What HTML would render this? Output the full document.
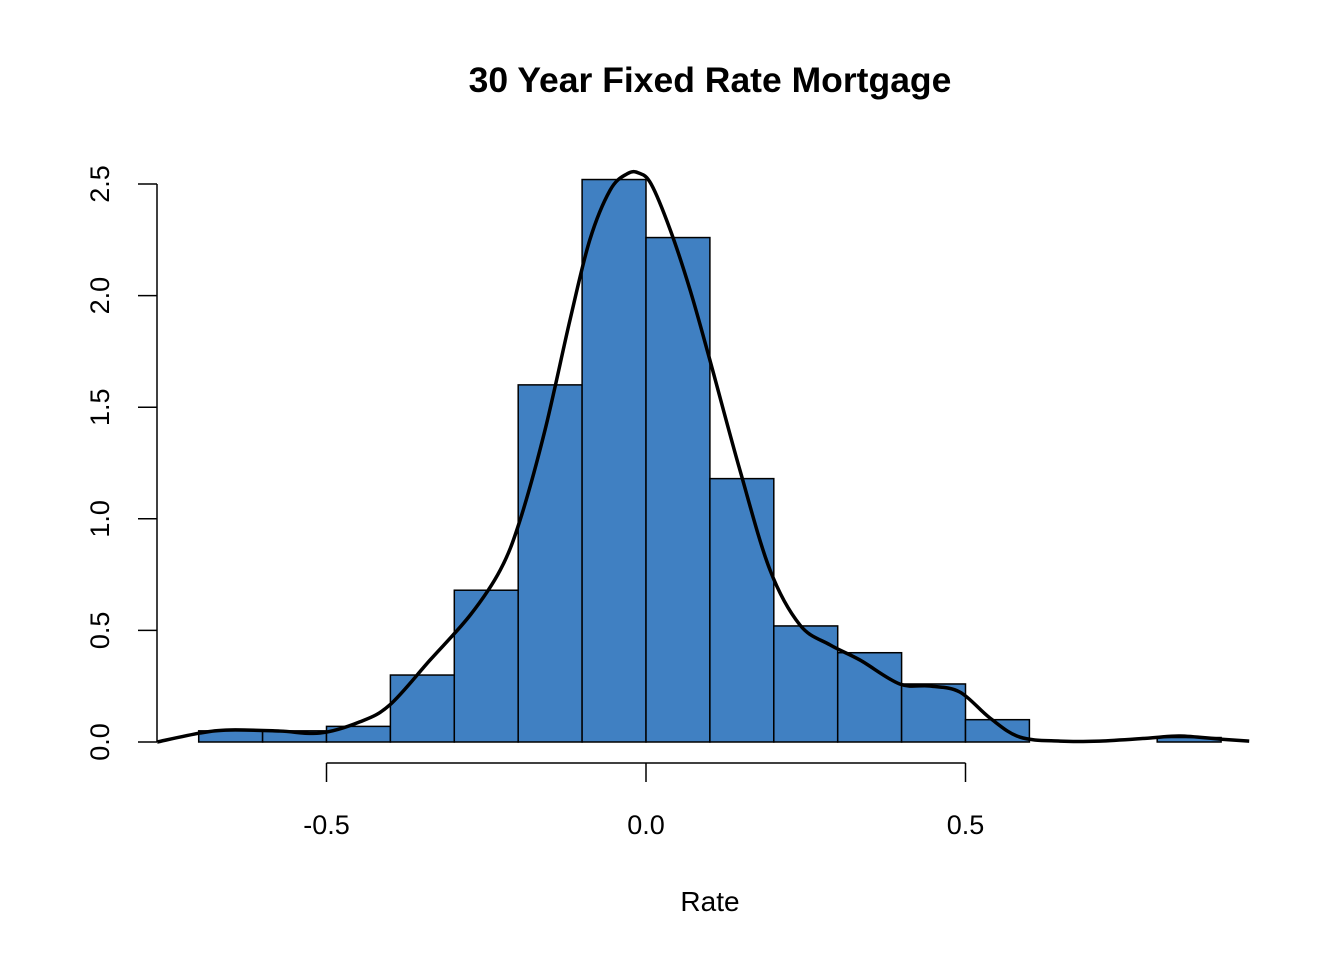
<!DOCTYPE html>
<html><head><meta charset="utf-8"><style>
html,body{margin:0;padding:0;background:#fff;}
svg{display:block;font-family:"Liberation Sans",Arial,sans-serif;}
</style></head><body>
<svg id="chart" width="1344" height="960" viewBox="0 0 1344 960">
<text x="710" y="92" text-anchor="middle" font-size="35.5" font-weight="bold">30 Year Fixed Rate Mortgage</text>
<text x="710" y="911" text-anchor="middle" font-size="28">Rate</text>
<g id="bars"></g>
<g id="axes"></g>
<path id="density" fill="none" stroke="#000" stroke-width="3.5"></path>
</svg>
<script>
const binStarts = [-0.7,-0.6,-0.5,-0.4,-0.3,-0.2,-0.1,0,0.1,0.2,0.3,0.4,0.5,0.6,0.7,0.8];
const binHeights = [0.05,0.05,0.07,0.30,0.68,1.60,2.52,2.26,1.18,0.52,0.40,0.26,0.10,0,0,0.02];
const binWidth = 0.1;
const densX = [-0.765,-0.698,-0.651,-0.573,-0.510,-0.448,-0.401,-0.338,-0.275,-0.228,-0.197,-0.158,-0.119,-0.088,-0.056,-0.030,-0.012,0.008,0.038,0.069,0.100,0.147,0.194,0.241,0.288,0.335,0.397,0.444,0.491,0.538,0.585,0.648,0.710,0.789,0.836,0.898,0.944];
const densY = [0,0.040,0.054,0.049,0.040,0.090,0.166,0.367,0.569,0.771,0.995,1.398,1.890,2.249,2.473,2.545,2.550,2.500,2.294,2.025,1.711,1.218,0.771,0.524,0.435,0.367,0.260,0.251,0.224,0.108,0.022,0.004,0.004,0.018,0.027,0.013,0.004];
const xTicks = [-0.5,0,0.5];
const xTickLabels = ["-0.5","0.0","0.5"];
const yTicks = [0,0.5,1,1.5,2,2.5];
const yTickLabels = ["0.0","0.5","1.0","1.5","2.0","2.5"];

const NS="http://www.w3.org/2000/svg";
const sx = v => 646 + v*639;
const sy = v => 742 - v*223.2;
const bars=document.getElementById('bars');
binStarts.forEach((b,i)=>{
  if(binHeights[i]<=0) return;
  const r=document.createElementNS(NS,'rect');
  r.setAttribute('x',sx(b));r.setAttribute('width',sx(b+binWidth)-sx(b));
  r.setAttribute('y',sy(binHeights[i]));r.setAttribute('height',sy(0)-sy(binHeights[i]));
  r.setAttribute('fill','#4080c2');r.setAttribute('stroke','#000');r.setAttribute('stroke-width','1.5');
  
  
  bars.appendChild(r);
});
const pts=densX.map((x,i)=>[sx(x),sy(densY[i])]);
let d='M'+pts[0][0]+','+pts[0][1];
for(let i=0;i<pts.length-1;i++){
  const p0=pts[Math.max(0,i-1)],p1=pts[i],p2=pts[i+1],p3=pts[Math.min(pts.length-1,i+2)];
  const c1=[p1[0]+(p2[0]-p0[0])/6,p1[1]+(p2[1]-p0[1])/6];
  const c2=[p2[0]-(p3[0]-p1[0])/6,p2[1]-(p3[1]-p1[1])/6];
  d+=' C'+c1+' '+c2+' '+p2;
}
document.getElementById('density').setAttribute('d',d);
const axes=document.getElementById('axes');
function line(x1,y1,x2,y2,name){const l=document.createElementNS(NS,'line');
l.setAttribute('x1',x1);l.setAttribute('y1',y1);l.setAttribute('x2',x2);l.setAttribute('y2',y2);
l.setAttribute('stroke','#000');l.setAttribute('stroke-width','1.5');


axes.appendChild(l);}
function text(x,y,s,rot,name){const t=document.createElementNS(NS,'text');
t.setAttribute('x',x);t.setAttribute('y',y);t.setAttribute('text-anchor','middle');t.setAttribute('font-size','27');
if(rot)t.setAttribute('transform','rotate(-90 '+x+' '+y+')');t.textContent=s;


axes.appendChild(t);}
line(sx(xTicks[0]),763,sx(xTicks[xTicks.length-1]),763,'x-axis-line');
xTicks.forEach((v,i)=>{line(sx(v),763,sx(v),782,'x-tick');text(sx(v),834,xTickLabels[i],false,'x-tick-label');});
line(157,sy(yTicks[0]),157,sy(yTicks[yTicks.length-1]),'y-axis-line');
yTicks.forEach((v,i)=>{line(157,sy(v),138,sy(v),'y-tick');text(109,sy(v),yTickLabels[i],true,'y-tick-label');});
</script>
</body></html>
